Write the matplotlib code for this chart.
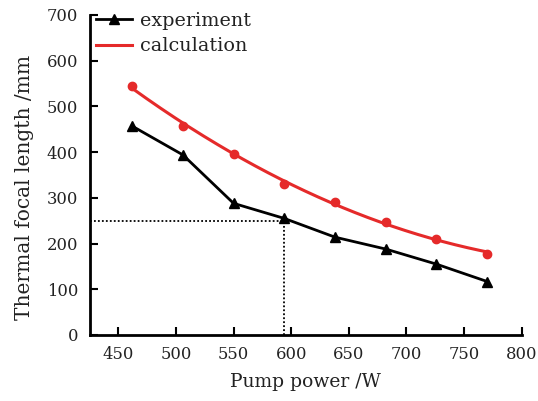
import numpy as np
import matplotlib
matplotlib.use("Agg")
import matplotlib.pyplot as plt

plt.rcParams['font.family'] = ['DejaVu Serif']

# Data
pump_power = [462, 506, 550, 594, 638, 682, 726, 770]
experiment = [457, 394, 288, 255, 214, 188, 155, 117]
calculation = [545, 458, 396, 330, 290, 248, 211, 177]
xticks = [450, 500, 550, 600, 650, 700, 750, 800]
yticks = [0, 100, 200, 300, 400, 500, 600, 700]

fig = plt.figure(figsize=(5.38, 4.01), dpi=100)
ax = fig.add_axes([0.1664, 0.1646, 0.8033, 0.798])

# smooth fitted curve for the calculation
coef = np.polyfit(pump_power, calculation, 2)
xs = np.linspace(pump_power[0], pump_power[-1], 200)

ax.plot(pump_power, experiment, color='black', lw=2.0, marker='^', ms=7,
        label='experiment', zorder=3)
ax.plot(xs, np.polyval(coef, xs), color='#e52a2a', lw=2.2, label='calculation', zorder=3)
ax.plot(pump_power, calculation, ls='none', marker='o', ms=6, color='#e52a2a', zorder=3)

# guide lines for 250 mm
ax.plot([425, 594], [250, 250], color='black', ls=(0, (1, 1.2)), lw=1.3)
ax.plot([594, 594], [0, 250], color='black', ls=(0, (1, 1.2)), lw=1.3)

ax.set_xlim(425, 800)
ax.set_ylim(0, 700)
ax.set_xticks(xticks)
ax.set_yticks(yticks)
ax.tick_params(direction='in', length=6, width=1.5, labelsize=11.8, pad=8,
               color='black', labelcolor='#222222')
for s in ['top', 'right']:
    ax.spines[s].set_visible(False)
for s in ['left', 'bottom']:
    ax.spines[s].set_linewidth(2)

ax.set_xlabel('Pump power /W', fontsize=13.5, labelpad=7, color='#222222')
ax.set_ylabel('Thermal focal length /mm', fontsize=14.5, labelpad=9, color='#222222')
ax.yaxis.label.set_y(0.46)

leg = ax.legend(loc='upper left', bbox_to_anchor=(-0.012, 1.045), frameon=False, fontsize=13.8,
                handlelength=1.9, handletextpad=0.4, labelspacing=0.38, borderaxespad=0.2)
for t in leg.get_texts():
    t.set_color('#222222')

fig.savefig('out.png', dpi=100)
